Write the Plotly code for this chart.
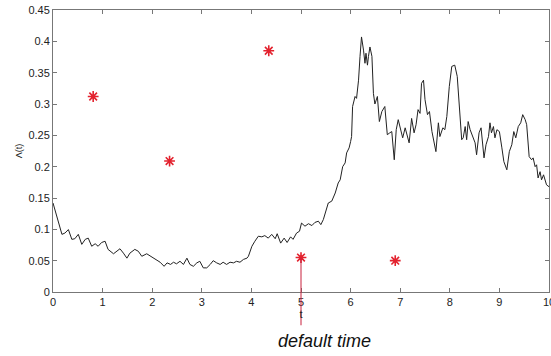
import plotly.graph_objects as go

# Λ(t) path
t_vals = [0.00, 0.07, 0.11, 0.18, 0.24, 0.31, 0.38, 0.44, 0.51, 0.58, 0.65, 0.71, 0.78, 0.85, 0.91, 0.98,
          1.05, 1.11, 1.22, 1.28, 1.35, 1.42, 1.49, 1.55, 1.65, 1.72, 1.79, 1.89, 1.99, 2.06, 2.16, 2.24,
          2.30, 2.37, 2.43, 2.49, 2.56, 2.63, 2.70, 2.76, 2.83, 2.90, 2.96, 3.03, 3.10, 3.17, 3.23, 3.30,
          3.37, 3.43, 3.50, 3.57, 3.64, 3.70, 3.77, 3.84, 3.91, 3.94, 4.01, 4.07, 4.14, 4.21, 4.27, 4.34,
          4.41, 4.48, 4.52, 4.59, 4.66, 4.72, 4.79, 4.84, 4.91, 4.97, 5.01, 5.08, 5.15, 5.22, 5.28, 5.35,
          5.40, 5.45, 5.50, 5.55, 5.62, 5.69, 5.75, 5.79, 5.84, 5.89, 5.92, 5.97, 6.00, 6.02, 6.04, 6.09,
          6.12, 6.16, 6.19, 6.22, 6.26, 6.29, 6.31, 6.34, 6.36, 6.39, 6.43, 6.46, 6.49, 6.54, 6.58, 6.63,
          6.69, 6.74, 6.79, 6.83, 6.88, 6.92, 6.96, 7.01, 7.05, 7.10, 7.14, 7.18, 7.23, 7.28, 7.32, 7.36,
          7.40, 7.43, 7.47, 7.50, 7.55, 7.59, 7.64, 7.68, 7.72, 7.77, 7.80, 7.86, 7.90, 7.94, 7.99, 8.04,
          8.10, 8.15, 8.19, 8.24, 8.27, 8.31, 8.34, 8.37, 8.41, 8.46, 8.51, 8.54, 8.59, 8.63, 8.66, 8.69,
          8.73, 8.78, 8.81, 8.84, 8.88, 8.91, 8.95, 9.00, 9.05, 9.09, 9.15, 9.20, 9.25, 9.29, 9.33, 9.38,
          9.43, 9.47, 9.52, 9.55, 9.60, 9.65, 9.68, 9.72, 9.75, 9.78, 9.82, 9.85, 9.89, 9.95, 10.00]
lam_vals = [0.142, 0.121, 0.113, 0.092, 0.094, 0.0996, 0.084, 0.085, 0.092, 0.076, 0.084, 0.086, 0.073, 0.077, 0.073, 0.079,
            0.081, 0.068, 0.061, 0.065, 0.069, 0.062, 0.054, 0.062, 0.068, 0.065, 0.057, 0.061, 0.056, 0.052, 0.0475, 0.041,
            0.0465, 0.044, 0.0475, 0.045, 0.049, 0.044, 0.054, 0.044, 0.041, 0.0465, 0.049, 0.0385, 0.0385, 0.044, 0.050, 0.0465,
            0.044, 0.0475, 0.044, 0.0475, 0.0465, 0.049, 0.0475, 0.052, 0.054, 0.057, 0.073, 0.081, 0.089, 0.088, 0.090, 0.086,
            0.092, 0.085, 0.093, 0.078, 0.086, 0.079, 0.088, 0.084, 0.094, 0.097, 0.110, 0.105, 0.109, 0.106, 0.111, 0.113,
            0.1075, 0.1155, 0.127, 0.142, 0.145, 0.158, 0.174, 0.179, 0.200, 0.206, 0.222, 0.230, 0.240, 0.248, 0.296, 0.312,
            0.309, 0.338, 0.376, 0.407, 0.386, 0.365, 0.381, 0.362, 0.376, 0.391, 0.376, 0.317, 0.300, 0.312, 0.272, 0.288,
            0.296, 0.251, 0.254, 0.256, 0.211, 0.259, 0.275, 0.256, 0.246, 0.262, 0.248, 0.238, 0.277, 0.254, 0.267, 0.291,
            0.285, 0.333, 0.338, 0.307, 0.283, 0.288, 0.256, 0.238, 0.224, 0.270, 0.248, 0.262, 0.259, 0.280, 0.328, 0.360,
            0.362, 0.344, 0.301, 0.243, 0.246, 0.264, 0.243, 0.272, 0.259, 0.248, 0.238, 0.219, 0.254, 0.262, 0.232, 0.214,
            0.235, 0.248, 0.270, 0.254, 0.264, 0.246, 0.259, 0.256, 0.230, 0.208, 0.195, 0.224, 0.235, 0.256, 0.246, 0.264,
            0.270, 0.283, 0.275, 0.267, 0.216, 0.211, 0.214, 0.200, 0.203, 0.182, 0.192, 0.179, 0.187, 0.171, 0.168]

# red asterisk events
event_t = [0.81, 2.35, 4.35, 5.0, 6.9]
event_y = [0.312, 0.209, 0.385, 0.055, 0.050]

default_t = 5.0
default_label = "default time"

x_ticks = list(range(0, 11))
y_ticks = [0, 0.05, 0.1, 0.15, 0.2, 0.25, 0.3, 0.35, 0.4, 0.45]
y_tick_text = ["0", "0.05", "0.1", "0.15", "0.2", "0.25", "0.3", "0.35", "0.4", "0.45"]

FONT = "Liberation Sans, Arial, sans-serif"

fig = go.Figure()
fig.add_trace(go.Scatter(x=t_vals, y=lam_vals, mode="lines",
                         line=dict(color="#222222", width=1), showlegend=False, hoverinfo="skip"))
fig.add_trace(go.Scatter(x=event_t, y=event_y, mode="markers",
                         marker=dict(symbol="asterisk-open", size=9, color="#e3222e",
                                     line=dict(color="#e3222e", width=1.6)),
                         showlegend=False, cliponaxis=False))

# red line from the default event down to the label
fig.add_shape(type="line", xref="x", yref="paper", x0=default_t, x1=default_t,
              y0=event_y[3] / 0.45, y1=-0.118, line=dict(color="#c8203c", width=1), layer="above")

fig.add_annotation(x=default_t, xref="x", y=0, yref="paper", yshift=-49, yanchor="middle",
                   text="<i>" + default_label + "</i>", showarrow=False, xshift=23,
                   font=dict(family=FONT, size=18, color="#111111"))

axis_common = dict(showline=True, linecolor="#777777", linewidth=1, mirror="ticks", automargin=False,
                   ticks="inside", ticklen=4, tickcolor="#777777", showgrid=False, zeroline=False,
                   ticklabeloverflow="allow",
                   tickfont=dict(family=FONT, size=11, color="#222222"))

fig.update_layout(
    width=551, height=356,
    margin=dict(l=53, r=2, t=10, b=64),
    paper_bgcolor="white", plot_bgcolor="white",
    xaxis=dict(range=[0, 10], tickvals=x_ticks, ticktext=[str(v) for v in x_ticks],
               title=dict(text="t", standoff=0, font=dict(family=FONT, size=11, color="#222222")),
               **axis_common),
    yaxis=dict(range=[0, 0.45], tickvals=y_ticks, ticktext=y_tick_text,
               title=dict(text="Λ(t)", standoff=4, font=dict(family=FONT, size=9, color="#222222")),
               **axis_common),
)

fig.write_html("out.html", config={"displayModeBar": False},
               post_script="document.body.style.margin='0';document.body.style.overflow='hidden';")
